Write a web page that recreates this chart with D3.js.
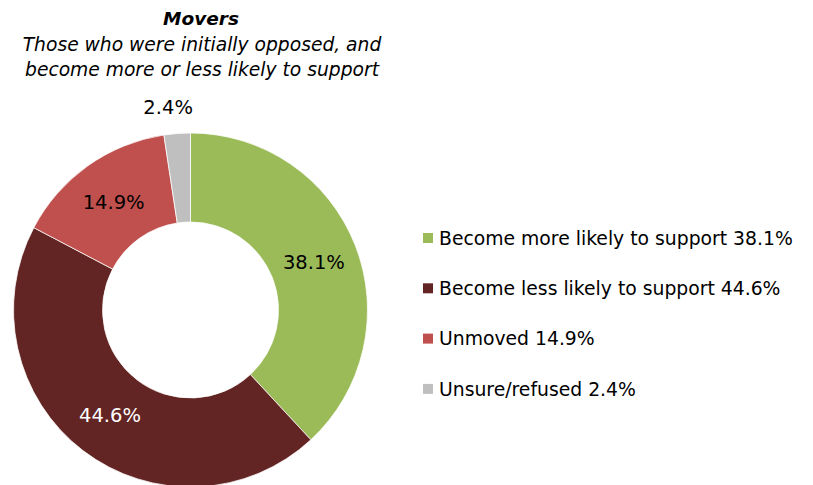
<!DOCTYPE html>
<html>
<head>
<meta charset="utf-8">
<script src="https://cdn.jsdelivr.net/npm/d3@7"></script>
<style>
  body { margin: 0; background: #fff; }
  svg text { font-family: "DejaVu Sans", Verdana, sans-serif; }
</style>
</head>
<body>
<svg id="chart"></svg>
<script>
// Chart data
var categories = ["Become more likely to support", "Become less likely to support", "Unmoved", "Unsure/refused"];
var values = [38.1, 44.6, 14.9, 2.4];
var colors = ["#9BBB59", "#632523", "#C0504D", "#BFBFBF"];
var labelColors = ["#000", "#fff", "#000", "#000"];

var titleText = "Movers";
var subtitleLines = ["Those who were initially opposed, and", "become more or less likely to support"];

// Set up the SVG dimensions
var svgWidth = 813;
var svgHeight = 485;

var svg = d3.select("#chart")
  .attr("width", svgWidth)
  .attr("height", svgHeight);

var cx = 190.5, cy = 310;
var outerR = 177, innerR = 88;

var data = categories.map(function (c, i) {
  return { name: c, value: values[i], color: colors[i], labelColor: labelColors[i] };
});

var pie = d3.pie()
  .sort(null)
  .value(function (d) { return d.value; });

var arc = d3.arc()
  .innerRadius(innerR)
  .outerRadius(outerR);

var outsideArc = d3.arc()
  .innerRadius(outerR + 27)
  .outerRadius(outerR + 27);

var chart = svg.append("g")
  .attr("transform", "translate(" + cx + "," + cy + ")");

var arcs = pie(data);

chart.selectAll(".slice")
  .data(arcs)
  .enter()
  .append("path")
  .attr("class", "slice")
  .attr("d", arc)
  .attr("fill", function (d) { return d.data.color; })
  .attr("stroke", "#fff")
  .attr("stroke-width", 0.75);

// Slice labels - small slice goes outside
chart.selectAll(".slice-label")
  .data(arcs)
  .enter()
  .append("text")
  .attr("class", "slice-label")
  .attr("transform", function (d) {
    var p = d.data.value < 5 ? outsideArc.centroid(d) : arc.centroid(d);
    if (d.data.value < 5) p[0] -= 7;
    return "translate(" + p[0] + "," + p[1] + ")";
  })
  .attr("text-anchor", "middle")
  .attr("dy", "0.36em")
  .style("font-size", "19.5px")
  .attr("fill", function (d) { return d.data.labelColor; })
  .text(function (d) { return d.data.value.toFixed(1) + "%"; });

// Title
svg.append("text")
  .attr("x", 201)
  .attr("y", 25)
  .attr("text-anchor", "middle")
  .style("font-size", "18.5px")
  .style("font-weight", "bold")
  .style("font-style", "italic")
  .text(titleText);

svg.selectAll(".subtitle")
  .data(subtitleLines)
  .enter()
  .append("text")
  .attr("class", "subtitle")
  .attr("x", 202)
  .attr("y", function (d, i) { return 51 + i * 25; })
  .attr("text-anchor", "middle")
  .style("font-size", "18.7px")
  .style("font-style", "italic")
  .text(function (d) { return d; });

// Legend
var legend = svg.append("g")
  .attr("transform", "translate(423,238)");

var items = legend.selectAll(".legend-item")
  .data(data)
  .enter()
  .append("g")
  .attr("class", "legend-item")
  .attr("transform", function (d, i) { return "translate(0," + (i * 50.3) + ")"; });

items.append("rect")
  .attr("x", 0)
  .attr("y", -5)
  .attr("width", 10)
  .attr("height", 10)
  .attr("fill", function (d) { return d.color; });

items.append("text")
  .attr("x", 16)
  .attr("dy", "0.36em")
  .style("font-size", "18.8px")
  .text(function (d) { return d.name + " " + d.value.toFixed(1) + "%"; });
</script>
</body>
</html>
